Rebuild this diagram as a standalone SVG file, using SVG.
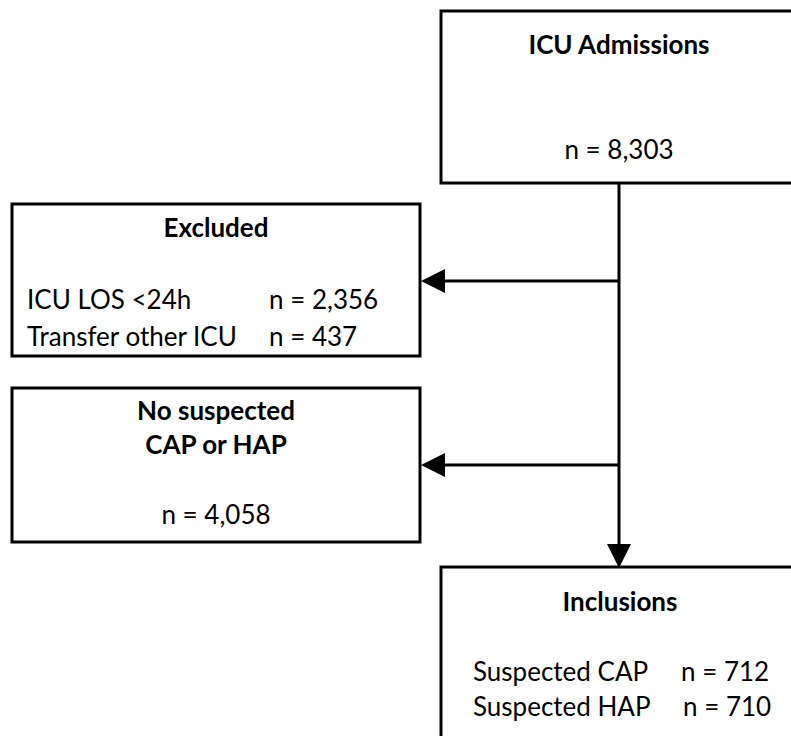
<svg xmlns="http://www.w3.org/2000/svg" width="791" height="736" viewBox="0 0 791 736">
  <style>
    .box { fill: #ffffff; stroke: #000000; stroke-width: 3; }
    .conn { stroke: #000000; stroke-width: 3; fill: none; }
    text { font-family: Lato, "Liberation Sans", sans-serif; font-size: 26px; fill: #000000; }
    .b { font-weight: bold; }
    .c { text-anchor: middle; }
  </style>
  <defs>
    <marker id="arrow" markerUnits="userSpaceOnUse" markerWidth="24" markerHeight="24" viewBox="0 0 24 24" refX="0" refY="12" orient="auto">
      <path d="M0,0 L24,12 L0,24 z" fill="#000000"/>
    </marker>
  </defs>
  <rect width="791" height="736" fill="#ffffff"/>

  <g id="connectors">
    <line class="conn" x1="619" y1="183" x2="619" y2="544" marker-end="url(#arrow)"/>
    <line class="conn" x1="619" y1="281" x2="445" y2="281" marker-end="url(#arrow)"/>
    <line class="conn" x1="619" y1="465" x2="445" y2="465" marker-end="url(#arrow)"/>
  </g>

  <g id="icu-admissions">
    <rect class="box" x="441" y="11" width="400" height="172"/>
    <text class="b c" x="619" y="54">ICU Admissions</text>
    <text class="c" x="619" y="159">n = 8,303</text>
  </g>

  <g id="excluded">
    <rect class="box" x="12" y="204" width="408" height="152"/>
    <text class="b c" x="216" y="237">Excluded</text>
    <text x="27" y="309">ICU LOS &lt;24h</text>
    <text x="269" y="309">n = 2,356</text>
    <text x="27" y="346">Transfer other ICU</text>
    <text x="269" y="346">n = 437</text>
  </g>

  <g id="no-suspected">
    <rect class="box" x="12" y="388" width="408" height="154"/>
    <text class="b c" x="216" y="420">No suspected</text>
    <text class="b c" x="216" y="454">CAP or HAP</text>
    <text class="c" x="216" y="524">n = 4,058</text>
  </g>

  <g id="inclusions">
    <rect class="box" x="441" y="567" width="400" height="200"/>
    <text class="b c" x="620" y="611">Inclusions</text>
    <text x="473" y="681">Suspected CAP</text>
    <text x="681" y="681">n = 712</text>
    <text x="473" y="716">Suspected HAP</text>
    <text x="683" y="716">n = 710</text>
  </g>
</svg>
